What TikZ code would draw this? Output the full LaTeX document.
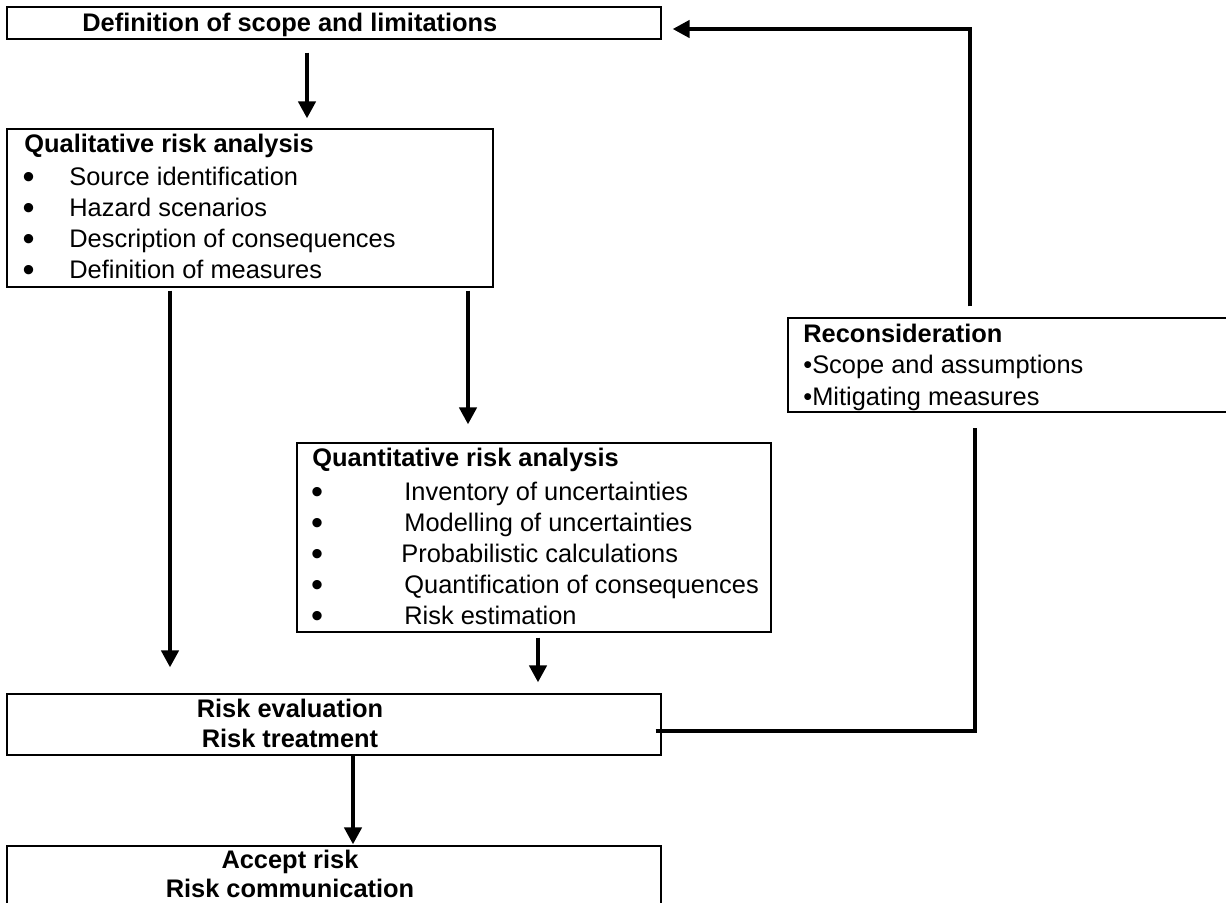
\documentclass[tikz,border=0pt]{standalone}
\usepackage{fontspec}
\setmainfont{Liberation Sans}
\usetikzlibrary{arrows.meta,fit}

\newcommand{\bigdot}{\raisebox{-1.9pt}{\scalebox{1.35}{\textbullet}}}

\begin{document}
\fontsize{12.7pt}{15.5pt}\selectfont
\begin{tikzpicture}[x=0.5pt, y=-0.5pt,
        box/.style={draw, line width=0.6pt, inner sep=0pt, fit={#1}},
        txt/.style={inner sep=0pt, anchor=base west},
        head/.style={txt, font=\bfseries},
        mid/.style={inner sep=0pt, anchor=base, font=\bfseries},
        dot/.style={inner sep=0pt, anchor=base},
        flow/.style={line width=2.2pt, -{Triangle[width=8.5pt, length=8.5pt]}},
        link/.style={line width=2.2pt}]
    \useasboundingbox (0,0) rectangle (1226,902);

    \node[box={(7,7) (661,39)}]      (scope)  {};
    \node[box={(7,129) (493,287)}]   (qual)   {};
    \node[box={(297,443) (771,632)}] (quant)  {};
    \node[box={(788,318) (1232,412)}] (recon) {};
    \node[box={(7,694) (661,755)}]   (eval)   {};
    \node[box={(7,846) (661,912)}]   (accept) {};

    \node[head] (scopetxt) at (82,31) {Definition of scope and limitations};

    \node[head] (qualtxt) at (24,152) {Qualitative risk analysis};
    \node[dot] (qb1) at (28.7,185) {\bigdot};
    \node[dot] (qb2) at (28.7,216) {\bigdot};
    \node[dot] (qb3) at (28.7,247) {\bigdot};
    \node[dot] (qb4) at (28.7,278) {\bigdot};
    \node[txt] (qi1) at (69,185) {Source identification};
    \node[txt] (qi2) at (69,216) {Hazard scenarios};
    \node[txt] (qi3) at (69,247) {Description of consequences};
    \node[txt] (qi4) at (69,278) {Definition of measures};

    \node[head] (quanttxt) at (312,466) {Quantitative risk analysis};
    \node[dot] (nb1) at (317,500) {\bigdot};
    \node[dot] (nb2) at (317,531) {\bigdot};
    \node[dot] (nb3) at (317,562) {\bigdot};
    \node[dot] (nb4) at (317,593) {\bigdot};
    \node[dot] (nb5) at (317,624) {\bigdot};
    \node[txt] (ni1) at (404,500) {Inventory of uncertainties};
    \node[txt] (ni2) at (404,531) {Modelling of uncertainties};
    \node[txt] (ni3) at (401,562) {Probabilistic calculations};
    \node[txt] (ni4) at (404,593) {Quantification of consequences};
    \node[txt] (ni5) at (404,624) {Risk estimation};

    \node[head] (recontxt) at (803,342) {Reconsideration};
    \node[txt] (ri1) at (803,373) {\textbullet Scope and assumptions};
    \node[txt] (ri2) at (803,405) {\textbullet Mitigating measures};

    \node[mid] (evaltxt1) at (290,717) {Risk evaluation};
    \node[mid] (evaltxt2) at (290,747) {Risk treatment};
    \node[mid] (accepttxt1) at (290,868) {Accept risk};
    \node[mid] (accepttxt2) at (290,897) {Risk communication};

    \coordinate (c1) at (307,0);
    \coordinate (c2) at (170,0);
    \coordinate (c3) at (468,0);
    \coordinate (c4) at (538,0);
    \coordinate (c5) at (353,0);
    \coordinate (c6) at (975,731);
    \coordinate (c7) at (970,29);

    \draw[flow] ([yshift=-6.5pt]scope.south -| c1) -- ([yshift=5pt]qual.north -| c1);
    \draw[flow] ([yshift=-1.5pt]qual.south -| c2) -- ([yshift=13pt]eval.north -| c2);
    \draw[flow] ([yshift=-1.5pt]qual.south -| c3) -- ([yshift=9pt]quant.north -| c3);
    \draw[flow] ([yshift=-2.5pt]quant.south -| c4) -- ([yshift=5.5pt]eval.north -| c4);
    \draw[flow] (eval.south -| c5) -- ([yshift=0.5pt]accept.north -| c5);
    \draw[link] ([xshift=-3pt]eval.east |- c6) -- (c6) -- ([yshift=-7.5pt]recon.south -| c6);
    \draw[flow] ([yshift=5.5pt]recon.north -| c7) -- (c7) -- ([xshift=5.5pt]scope.east |- c7);
\end{tikzpicture}
\end{document}
